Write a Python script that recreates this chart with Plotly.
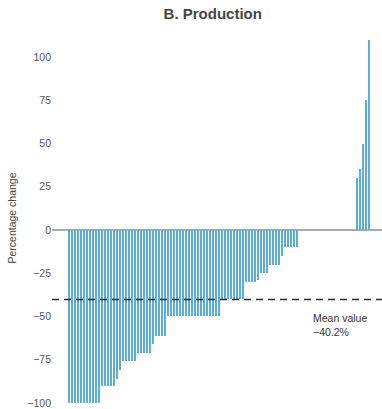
import plotly.graph_objects as go

# Percentage change in production by unit, sorted from largest fall to largest rise
changes = (
    [-100] * 11
    + [-90] * 5
    + [-86, -81]
    + [-76] * 5
    + [-71] * 5
    + [-66]
    + [-61] * 4
    + [-50] * 18
    + [-40] * 8
    + [-30] * 4
    + [-29]
    + [-25] * 3
    + [-20] * 4
    + [-15]
    + [-10] * 5
    + [0] * 19
    + [30, 35, 50, 75, 110]
)
positions = list(range(len(changes)))

mean_value = -40.2
y_ticks = [100, 75, 50, 25, 0, -25, -50, -75, -100]

FONT = "Liberation Sans, Arial, sans-serif"

fig = go.Figure()
fig.add_trace(go.Bar(
    x=positions,
    y=changes,
    width=0.5,
    marker=dict(color="#5aaed8", line=dict(width=0)),
    hoverinfo="y",
))

fig.add_shape(
    type="line", xref="paper", x0=0, x1=1, yref="y", y0=mean_value, y1=mean_value,
    line=dict(color="#2b2b2b", width=1.5, dash="7px,5px"),
)

fig.add_annotation(
    xref="x", yref="y", x=80.5, y=-46, xanchor="left", yanchor="top",
    text="Mean value<br>\u2212%.1f%%" % abs(mean_value), showarrow=False, align="left",
    font=dict(family=FONT, size=10.5, color="#333333"),
)

fig.update_layout(
    width=382, height=409,
    margin=dict(l=52, r=0, t=32, b=3),
    paper_bgcolor="white", plot_bgcolor="white",
    showlegend=False,
    bargap=0,
    title=dict(
        text="<b>B. Production</b>", x=0.557, xanchor="center", y=0.978, yanchor="top",
        font=dict(family=FONT, size=15, color="#444444"),
    ),
    xaxis=dict(
        range=[-5.83, 104.17], showgrid=False, zeroline=False, showticklabels=False,
        ticks="", showline=False, fixedrange=True,
    ),
    yaxis=dict(
        range=[-100.6, 114.5], tickvals=y_ticks, showgrid=False,
        zeroline=True, zerolinecolor="#aaaaaa", zerolinewidth=2,
        showline=False, ticks="", ticklabeloverflow="allow",
        tickfont=dict(family=FONT, size=10.5, color="#555555"),
        title=dict(text="Percentage change", standoff=8,
                   font=dict(family=FONT, size=10.5, color="#444444")),
    ),
)

fig.write_html("out.html")
